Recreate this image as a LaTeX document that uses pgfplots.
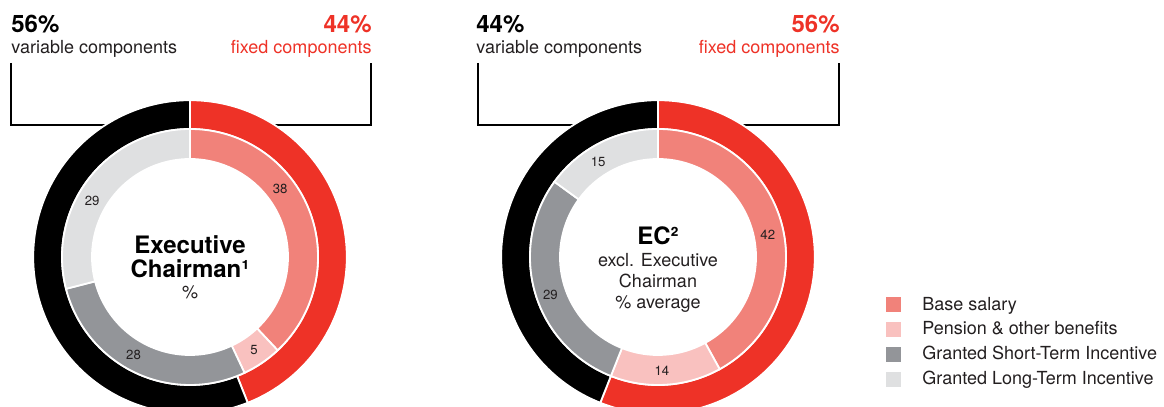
\documentclass[border=0pt]{standalone}
\usepackage{pgfplots}
\pgfplotsset{compat=1.18}
\usepackage{fontspec}
\setmainfont{TeX Gyre Heros}
\definecolor{cRed}{RGB}{238,50,39}
\definecolor{cBase}{RGB}{241,130,122}
\definecolor{cPens}{RGB}{249,193,191}
\definecolor{cSTI}{RGB}{147,149,153}
\definecolor{cLTI}{RGB}{223,224,225}
\definecolor{cTxt}{RGB}{35,31,32}
% one ring segment: cx, cy, from %, to %, inner r (pt), outer r (pt), colour
\newcommand\ringseg[7]{%
  \pgfmathsetmacro\angA{90-3.6*(#3)}%
  \pgfmathsetmacro\angB{90-3.6*(#4)}%
  \edef\tmp{\noexpand\filldraw[fill=#7, draw=white, line width=0.9pt]
    ([shift={(\angA:#6pt)}]axis cs:#1,#2) arc[start angle=\angA, end angle=\angB, radius=#6pt]
    -- ([shift={(\angB:#5pt)}]axis cs:#1,#2) arc[start angle=\angB, end angle=\angA, radius=#5pt] -- cycle;}%
  \tmp}
% a ring: cx, cy, inner r, outer r, list of value/colour
\newcommand\ring[5]{%
  \gdef\cum{0}%
  \foreach \v/\c in {#5}{%
    \pgfmathsetmacro\nxt{\cum+\v}%
    \ringseg{#1}{#2}{\cum}{\nxt}{#3}{#4}{\c}%
    \global\let\cum\nxt
  }%
}
\begin{document}
\begin{tikzpicture}
\begin{axis}[
  scale only axis, width=582pt, height=203.5pt,
  xmin=0, xmax=1164, ymin=0, ymax=407,
  hide axis, clip=true,
  legend cell align=left,
  legend image code/.code={\fill[#1, draw=none] (0pt,-3.75pt) rectangle (7.5pt,3.75pt);},
  legend style={at={(axis cs:886,114.5)}, anchor=north west, draw=none, fill=none,
    inner sep=0pt, font=\fontsize{9}{10.8}\selectfont, text=cTxt, row sep=0.2pt,
    /tikz/every odd column/.append style={column sep=8.5pt}},
]
\coordinate (bl) at (axis cs:0,0);
\coordinate (tr) at (axis cs:1164,407);
% brackets
\draw[line width=1pt] (axis cs:11,344) -- (axis cs:11,282) -- (axis cs:371,282) -- (axis cs:371,344);
\draw[line width=1pt] (axis cs:478,344) -- (axis cs:478,282) -- (axis cs:839,282) -- (axis cs:839,344);
% Executive Chairman
\ring{190}{150}{64.0}{78.4}{44/cRed, 56/black}
\ring{190}{150}{49.0}{64.0}{38/cBase, 5/cPens, 28/cSTI, 29/cLTI}
% EC excl. Executive Chairman
\ring{658}{150}{64.0}{78.4}{56/cRed, 44/black}
\ring{658}{150}{49.0}{64.0}{42/cBase, 14/cPens, 29/cSTI, 15/cLTI}
% ring labels
\begin{scope}[every node/.style={font=\fontsize{6.6}{7.5}\selectfont, text=cTxt}]
\node at ([shift={(37:56.5pt)}]axis cs:190,150) {38};
\node at ([shift={(-55.5:56.5pt)}]axis cs:190,150) {5};
\node at ([shift={(-120:56.5pt)}]axis cs:190,150) {28};
\node at ([shift={(150:56.5pt)}]axis cs:190,150) {29};
\node at ([shift={(11.4:56pt)}]axis cs:658,150) {42};
\node at ([shift={(-88:57pt)}]axis cs:658,150) {14};
\node at ([shift={(-160.6:57pt)}]axis cs:658,150) {29};
\node at ([shift={(122.3:56pt)}]axis cs:658,150) {15};
\end{scope}
% headers
\node[anchor=base west, inner sep=0pt, font=\fontsize{12}{14}\bfseries] at (axis cs:11,374) {56\%};
\node[anchor=base west, inner sep=0pt, font=\fontsize{9}{11}\selectfont, text=cTxt] at (axis cs:11,353) {variable components};
\node[anchor=base east, inner sep=0pt, font=\fontsize{12}{14}\bfseries, text=cRed] at (axis cs:372,374) {44\%};
\node[anchor=base east, inner sep=0pt, font=\fontsize{9}{11}\selectfont, text=cRed] at (axis cs:372,353) {fixed components};
\node[anchor=base west, inner sep=0pt, font=\fontsize{12}{14}\bfseries] at (axis cs:476,374) {44\%};
\node[anchor=base west, inner sep=0pt, font=\fontsize{9}{11}\selectfont, text=cTxt] at (axis cs:476,353) {variable components};
\node[anchor=base east, inner sep=0pt, font=\fontsize{12}{14}\bfseries, text=cRed] at (axis cs:840,374) {56\%};
\node[anchor=base east, inner sep=0pt, font=\fontsize{9}{11}\selectfont, text=cRed] at (axis cs:840,353) {fixed components};
% centre texts
\node[anchor=base, inner sep=0pt, font=\fontsize{12}{14}\bfseries] at (axis cs:190,153.7) {Executive};
\node[anchor=base, inner sep=0pt, font=\fontsize{12}{14}\bfseries] at (axis cs:190,129.7) {Chairman¹};
\node[anchor=base, inner sep=0pt, font=\fontsize{9}{11}\selectfont, text=cTxt] at (axis cs:190,108.7) {\%};
\node[anchor=base, inner sep=0pt, font=\fontsize{12}{14}\bfseries] at (axis cs:658,162.7) {EC²};
\node[anchor=base, inner sep=0pt, font=\fontsize{9}{11}\selectfont, text=cTxt] at (axis cs:658,140.3) {excl. Executive};
\node[anchor=base, inner sep=0pt, font=\fontsize{9}{11}\selectfont, text=cTxt] at (axis cs:658,119.3) {Chairman};
\node[anchor=base, inner sep=0pt, font=\fontsize{9}{11}\selectfont, text=cTxt] at (axis cs:658,98.7) {\% average};
% legend
\addlegendimage{fill=cBase}\addlegendentry{Base salary}
\addlegendimage{fill=cPens}\addlegendentry{Pension \& other benefits}
\addlegendimage{fill=cSTI}\addlegendentry{Granted Short-Term Incentive}
\addlegendimage{fill=cLTI}\addlegendentry{Granted Long-Term Incentive}
\end{axis}
\pgfresetboundingbox
\path (bl) rectangle (tr);
\end{tikzpicture}
\end{document}
